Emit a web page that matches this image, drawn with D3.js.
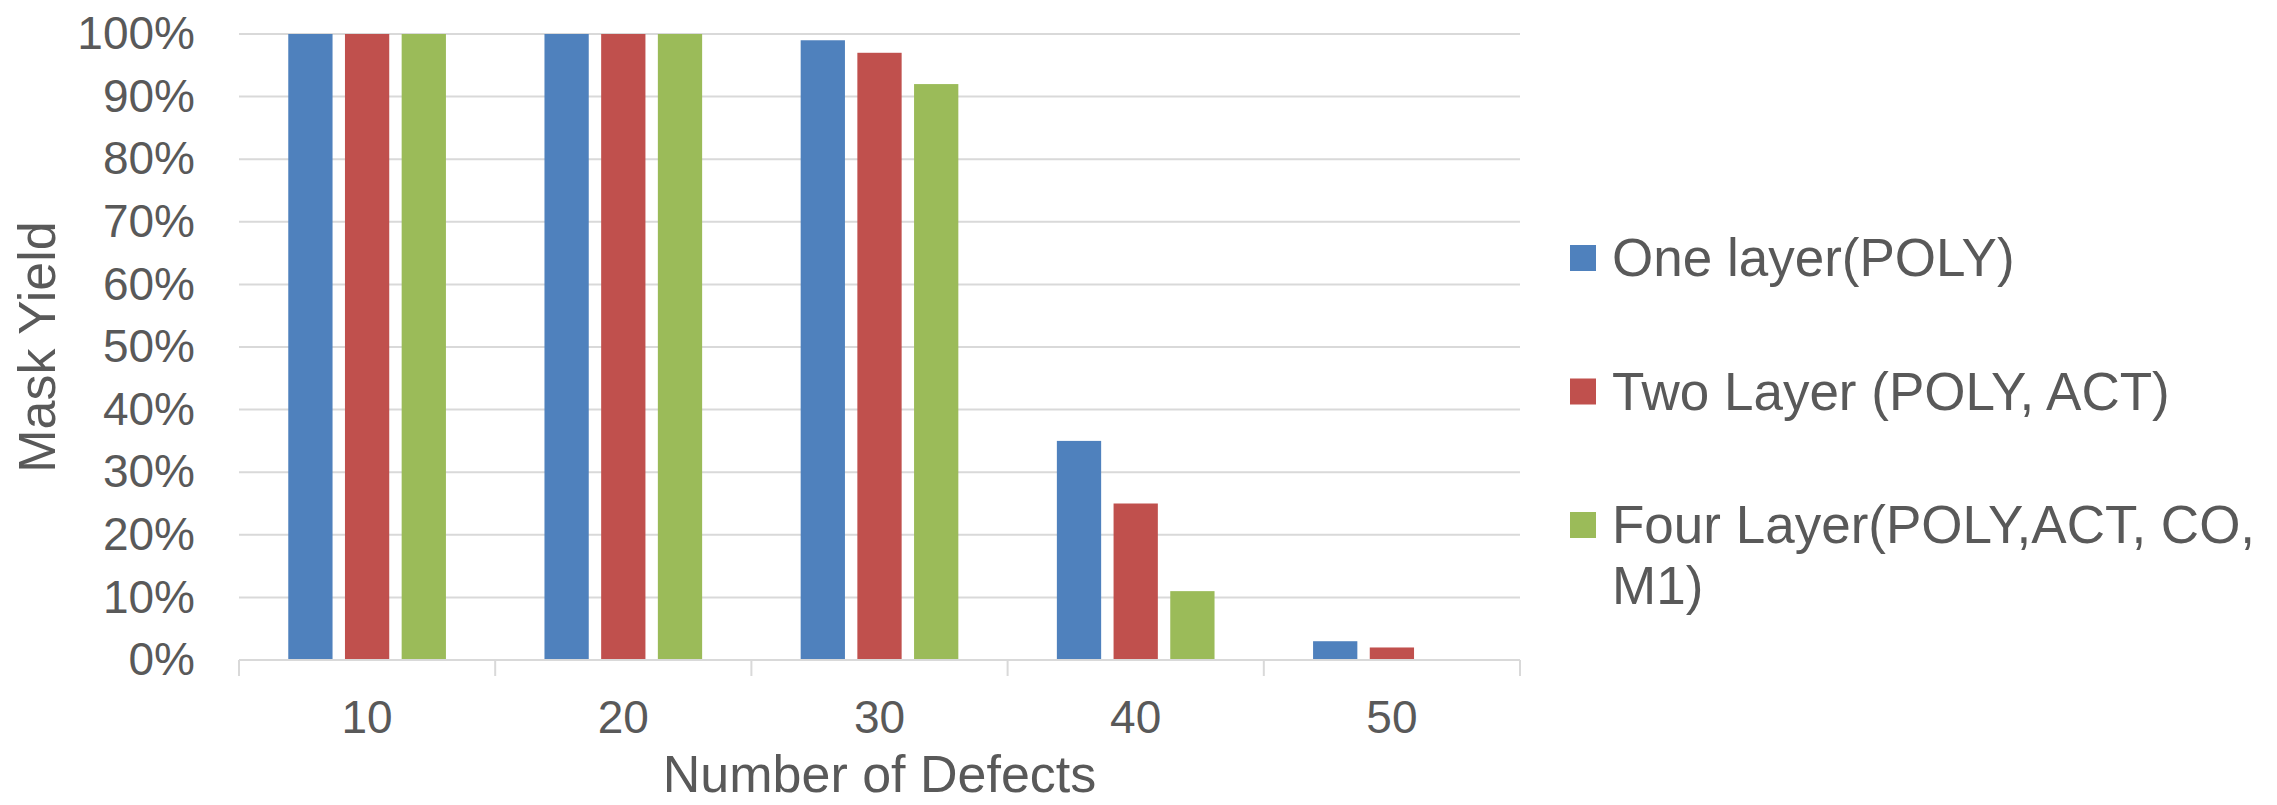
<!DOCTYPE html>
<html>
<head>
<meta charset="utf-8">
<script src="https://cdn.jsdelivr.net/npm/d3@7"></script>
<style>
  html, body { margin: 0; padding: 0; background: #fff; }
  svg { display: block; }
  text { font-family: "Liberation Sans", Arial, sans-serif; fill: #595959; }
</style>
</head>
<body>
<svg id="chart" width="2277" height="805"></svg>
<script>
// ---- data ----
const categories = ["10", "20", "30", "40", "50"];
const seriesNames = ["One layer(POLY)", "Two Layer (POLY, ACT)", "Four Layer(POLY,ACT, CO, M1)"];
const legendLines = [["One layer(POLY)"], ["Two Layer (POLY, ACT)"], ["Four Layer(POLY,ACT, CO,", "M1)"]];
const oneLayer  = [1.00, 1.00, 0.99, 0.35, 0.03];
const twoLayer  = [1.00, 1.00, 0.97, 0.25, 0.02];
const fourLayer = [1.00, 1.00, 0.92, 0.11, 0.00];
const yTicks = [0, 0.1, 0.2, 0.3, 0.4, 0.5, 0.6, 0.7, 0.8, 0.9, 1.0];
const colors = ["#4f81bd", "#c0504d", "#9bbb59"];

const seriesValues = [oneLayer, twoLayer, fourLayer];

const svg = d3.select("#chart");
const plot = { left: 239, right: 1520, top: 34, bottom: 660 };

const x0 = d3.scaleBand().domain(categories).range([plot.left, plot.right]).padding(0);
const x1 = d3.scaleBand().domain(d3.range(seriesNames.length))
  .range([0, x0.bandwidth()]).paddingInner(0.219).paddingOuter(0.869);
const y = d3.scaleLinear().domain([0, 1]).range([plot.bottom, plot.top]);

// gridlines
svg.append("g").selectAll("line").data(yTicks.filter(d => d > 0)).join("line")
  .attr("x1", plot.left).attr("x2", plot.right)
  .attr("y1", d => y(d)).attr("y2", d => y(d))
  .attr("stroke", "#d9d9d9").attr("stroke-width", 2);

// y axis labels
const yAxis = d3.axisLeft(y).tickValues(yTicks).tickFormat(d3.format(".0%")).tickSize(0).tickPadding(44);
const gy = svg.append("g").attr("transform", `translate(${plot.left},0)`).call(yAxis);
gy.select(".domain").remove();
gy.selectAll("text").attr("font-size", 46).attr("fill", "#595959")
  .attr("font-family", "Liberation Sans, Arial, sans-serif");

// bars
const groups = svg.append("g").selectAll("g").data(seriesValues).join("g")
  .attr("fill", (d, i) => colors[i]);
groups.each(function (vals, si) {
  d3.select(this).selectAll("rect").data(vals).join("rect")
    .attr("x", (v, ci) => x0(categories[ci]) + x1(si))
    .attr("width", x1.bandwidth())
    .attr("y", v => y(v))
    .attr("height", v => y(0) - y(v));
});

// x axis
const xAxis = d3.axisBottom(x0).tickSize(0).tickPadding(40);
const gx = svg.append("g").attr("transform", `translate(0,${plot.bottom})`).call(xAxis);
gx.select(".domain").attr("stroke", "#d9d9d9").attr("stroke-width", 2)
  .attr("d", `M${plot.left},0H${plot.right}`);
gx.selectAll("text").attr("font-size", 46).attr("fill", "#595959")
  .attr("font-family", "Liberation Sans, Arial, sans-serif");
// category boundary tick marks
const bounds = categories.map(c => x0(c)).concat([plot.right]);
gx.append("g").selectAll("line").data(bounds).join("line")
  .attr("x1", d => d).attr("x2", d => d).attr("y1", 0).attr("y2", 16)
  .attr("stroke", "#d9d9d9").attr("stroke-width", 2);

// axis titles
svg.append("text").attr("x", (plot.left + plot.right) / 2).attr("y", 792)
  .attr("text-anchor", "middle").attr("font-size", 52).text("Number of Defects");
svg.append("text")
  .attr("transform", `translate(55,${(plot.top + plot.bottom) / 2}) rotate(-90)`)
  .attr("text-anchor", "middle").attr("font-size", 52).text("Mask Yield");

// legend
const legendY = d3.scalePoint().domain(d3.range(seriesNames.length)).range([258, 525]);
const lg = svg.append("g").selectAll("g").data(seriesNames).join("g")
  .attr("transform", (d, i) => `translate(1570,${legendY(i)})`);
lg.append("rect").attr("x", 0).attr("y", -13).attr("width", 26).attr("height", 26)
  .attr("fill", (d, i) => colors[i]);
lg.each(function (d, i) {
  const t = d3.select(this).append("text").attr("x", 42).attr("y", 18).attr("font-size", 53);
  legendLines[i].forEach((line, li) => {
    t.append("tspan").attr("x", 42).attr("dy", li === 0 ? 0 : 61).text(line);
  });
});
</script>
</body>
</html>
